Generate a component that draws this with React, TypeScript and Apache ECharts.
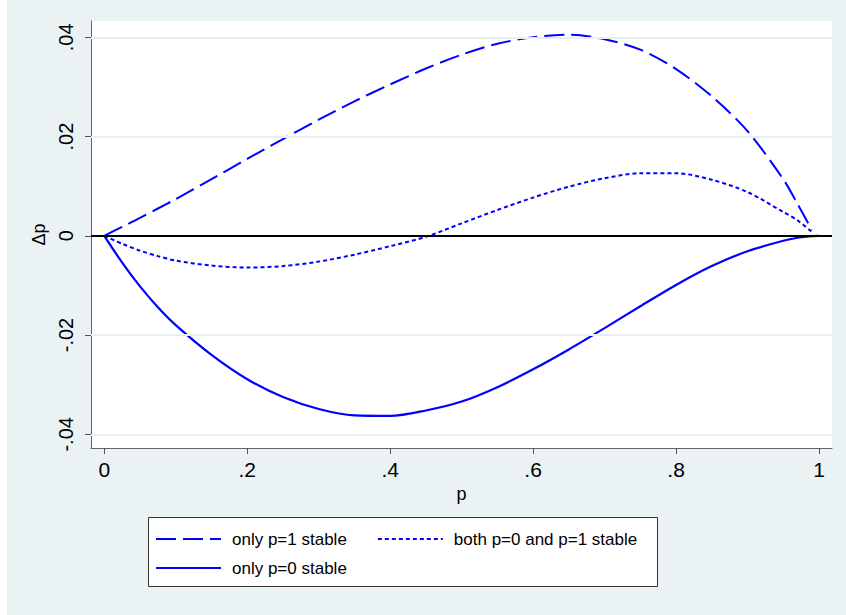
import React, { useEffect, useRef } from "react";
import * as echarts from "echarts";

// Change in allele frequency Δp as a function of p for three stability regimes
const pGrid = [0, 0.025, 0.05, 0.075, 0.1, 0.15, 0.2, 0.25, 0.3, 0.35, 0.4, 0.45, 0.5, 0.55, 0.6, 0.65, 0.7, 0.75, 0.8, 0.85, 0.9, 0.95, 0.97, 0.99, 1];

const onlyP1Stable = [0, 0.0018, 0.0036, 0.0055, 0.0074, 0.0114, 0.0155, 0.0195, 0.0234, 0.0271, 0.0305, 0.0337, 0.0365, 0.0387, 0.04, 0.0405, 0.0396, 0.0375, 0.0336, 0.0281, 0.0211, 0.0114, 0.0064, 0.0012, null];
const bothStable = [0, -0.0016, -0.003, -0.0041, -0.005, -0.006, -0.0064, -0.0061, -0.0052, -0.0038, -0.0021, -0.0002, 0.0025, 0.0052, 0.0077, 0.0099, 0.0116, 0.0126, 0.0126, 0.0113, 0.0088, 0.0048, 0.0031, 0.0008, null];
const onlyP0Stable = [0, -0.0054, -0.0102, -0.0144, -0.018, -0.024, -0.0289, -0.0325, -0.0349, -0.0362, -0.0363, -0.0352, -0.0334, -0.0305, -0.0269, -0.0229, -0.0186, -0.0142, -0.0099, -0.0061, -0.0031, -0.001, -0.0004, -0.00005, 0];

const seriesNames = ["only p=1 stable", "both p=0 and p=1 stable", "only p=0 stable"];

const xTicks = [0, 0.2, 0.4, 0.6, 0.8, 1];
const xTickLabels = ["0", ".2", ".4", ".6", ".8", "1"];
const yTicks = [-0.04, -0.02, 0, 0.02, 0.04];
const yTickLabels = ["-.04", "-.02", "0", ".02", ".04"];

const FONT = "'Liberation Sans', Arial, sans-serif";
const BLUE = "#0000ff";

const pairs = (ys: (number | null)[]) =>
  pGrid.map((p, i) => [p, ys[i]]).filter((d) => d[1] !== null);

const lookup = (ticks: number[], labels: string[]) => (v: number) => {
  const i = ticks.findIndex((t) => Math.abs(t - v) < 1e-9);
  return i >= 0 ? labels[i] : "";
};

export default function App() {
  const ref = useRef<HTMLDivElement>(null);

  useEffect(() => {
    if (!ref.current) return;
    const chart = echarts.init(ref.current, undefined, { renderer: "svg" });

    const lineSeries = (name: string, ys: (number | null)[], dash: any, width: number) => ({
      type: "line",
      name,
      data: pairs(ys),
      symbol: "none",
      smooth: 0.3,
      z: 3,
      lineStyle: { color: BLUE, width, type: dash },
      itemStyle: { color: BLUE },
    });

    const legendCommon = {
      left: 155,
      orient: "horizontal",
      padding: 0,
      itemWidth: 65,
      itemHeight: 14,
      itemStyle: { opacity: 0 },
      textStyle: { fontSize: 17, color: "#000", fontFamily: FONT, padding: [0, 0, 0, 6], lineHeight: 20 },
    };

    chart.setOption({
      animation: false,
      backgroundColor: "transparent",
      textStyle: { fontFamily: FONT },
      grid: {
        left: 91,
        right: 14,
        top: 21,
        bottom: 167,
        show: true,
        backgroundColor: "#ffffff",
        borderWidth: 0,
      },
      xAxis: {
        type: "value",
        min: -0.0186,
        max: 1.0182,
        name: "p",
        nameLocation: "middle",
        nameGap: 32,
        nameTextStyle: { fontSize: 18, color: "#000", fontFamily: FONT },
        axisLine: { show: true, onZero: false, lineStyle: { color: "#666", width: 1 } },
        axisTick: { show: true, length: 6, customValues: xTicks, lineStyle: { color: "#555", width: 1 } },
        axisLabel: {
          customValues: xTicks,
          formatter: lookup(xTicks, xTickLabels),
          fontSize: 21,
          color: "#000",
          margin: 11,
          fontFamily: FONT,
        },
        splitLine: { show: false },
      },
      yAxis: {
        type: "value",
        min: -0.04276,
        max: 0.04328,
        name: "Δp",
        nameLocation: "middle",
        nameGap: 39,
        nameTextStyle: { fontSize: 18, color: "#000", fontFamily: FONT },
        axisLine: { show: true, onZero: false, lineStyle: { color: "#666", width: 1 } },
        axisTick: { show: true, length: 6, customValues: yTicks, lineStyle: { color: "#555", width: 1 } },
        axisLabel: {
          customValues: yTicks,
          formatter: lookup(yTicks, yTickLabels),
          rotate: 90,
          fontSize: 20,
          color: "#000",
          margin: 15,
          fontFamily: FONT,
        },
        splitLine: { show: false },
      },
      legend: [
        { ...legendCommon, data: [seriesNames[0], seriesNames[1]], top: 529, itemGap: 30 },
        { ...legendCommon, data: [seriesNames[2]], top: 558 },
      ],
      graphic: [
        {
          type: "rect",
          z: 0,
          shape: { x: 148.5, y: 517.5, width: 509, height: 69 },
          style: { fill: "#ffffff", stroke: "#333333", lineWidth: 1 },
        },
      ],
      series: [
        {
          type: "line",
          data: [],
          z: 1,
          markLine: {
            silent: true,
            symbol: "none",
            label: { show: false },
            lineStyle: { color: "#e8eff1", width: 2, type: "solid" },
            data: yTicks.filter((t) => t !== 0).map((t) => ({ yAxis: t })),
          },
        },
        {
          type: "line",
          data: [],
          z: 2,
          markLine: {
            silent: true,
            symbol: "none",
            label: { show: false },
            lineStyle: { color: "#000000", width: 2, type: "solid" },
            data: [{ yAxis: 0 }],
          },
        },
        lineSeries(seriesNames[0], onlyP1Stable, [20, 7], 2),
        lineSeries(seriesNames[1], bothStable, [4, 3], 2),
        lineSeries(seriesNames[2], onlyP0Stable, "solid", 2.2),
      ],
    });

    return () => chart.dispose();
  }, []);

  return (
    <div
      ref={ref}
      style={{
        position: "fixed",
        left: 0,
        top: 0,
        width: 846,
        height: 615,
        background: "linear-gradient(to right, #ffffff 7px, #eaf2f3 7px)",
      }}
    />
  );
}
